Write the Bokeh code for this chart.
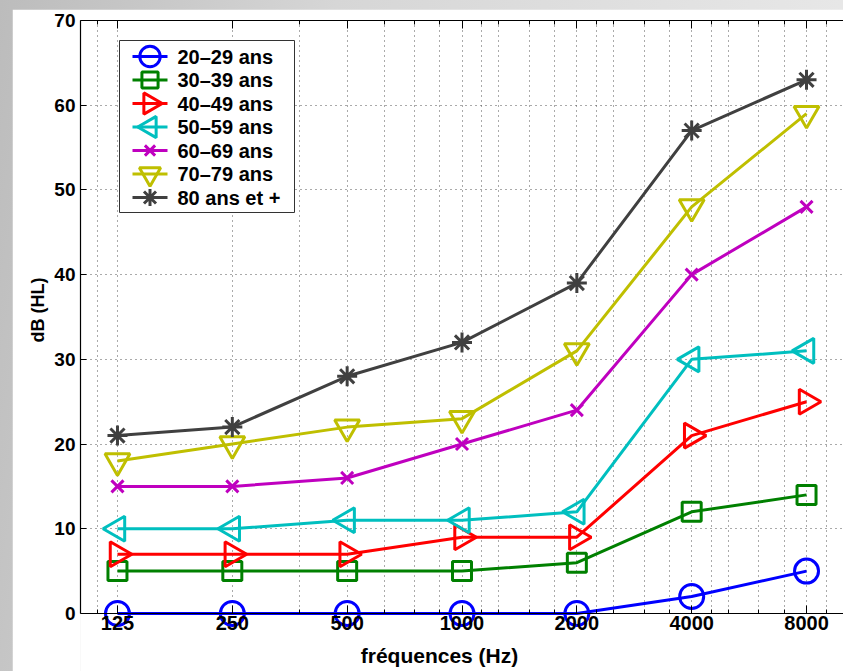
import math

from bokeh.core.properties import value
from bokeh.embed import file_html
from bokeh.layouts import column
from bokeh.models import FixedTicker, LinearScale, LogAxis, Range1d, Title
from bokeh.plotting import figure
from bokeh.resources import INLINE

# Audiometric thresholds by age group
freqs = [125, 250, 500, 1000, 2000, 4000, 8000]
freq_labels = ["125", "250", "500", "1000", "2000", "4000", "8000"]
minor_freqs = [111, 375, 625, 750, 875, 1125, 1250, 1500, 1750,
               2250, 2500, 3000, 3500, 4500, 5000, 6000, 7000, 9000]
y_ticks = [0, 10, 20, 30, 40, 50, 60, 70]

age_groups = ["20–29 ans", "30–39 ans", "40–49 ans", "50–59 ans",
              "60–69 ans", "70–79 ans", "80 ans et +"]
db_20_29 = [0, 0, 0, 0, 0, 2, 5]
db_30_39 = [5, 5, 5, 5, 6, 12, 14]
db_40_49 = [7, 7, 7, 9, 9, 21, 25]
db_50_59 = [10, 10, 11, 11, 12, 30, 31]
db_60_69 = [15, 15, 16, 20, 24, 40, 48]
db_70_79 = [18, 20, 22, 23, 31, 48, 59]
db_80_plus = [21, 22, 28, 32, 39, 57, 63]

series = [db_20_29, db_30_39, db_40_49, db_50_59, db_60_69, db_70_79, db_80_plus]
colors = ["#0000ff", "#008000", "#ff0000", "#00bfbf", "#bf00bf", "#bfbf00", "#404040"]
# (marker, size, rotation) -- triangles rotated to point right / left / down
markers = [
    ("circle", 24, 0.0),
    ("square", 19, 0.0),
    ("triangle", 25, -math.pi / 2),
    ("triangle", 25, math.pi / 2),
    ("x", 17, 0.0),
    ("triangle", 25, math.pi),
    ("asterisk", 20, 0.0),
]

FONT = "Liberation Sans"
X_TITLE = "fréquences (Hz)"
Y_TITLE = "dB (HL)"

FIG_W, FIG_H = 831, 662
BORDER_L, BORDER_T = 68, 11
FRAME_W = FIG_W - BORDER_L
FRAME_H = FIG_H - BORDER_T
Y_START = -6.85

p = figure(
    width=FIG_W, height=FIG_H,
    x_axis_type="log",
    x_range=Range1d(100, 10000),
    # the frame runs below 0 so that markers on the zero line and the
    # frequency labels underneath are not cut
    y_range=Range1d(Y_START, 70),
    output_backend="svg",
    toolbar_location=None,
    min_border_left=BORDER_L, min_border_right=0,
    min_border_top=BORDER_T, min_border_bottom=0,
    background_fill_color="white",
    border_fill_color="white",
    outline_line_color=None,
)
p.margin = (9, 0, 0, 12)

# pixel-like coordinate system for the legend block (origin top-left of frame)
p.extra_x_ranges = {"px": Range1d(0, FRAME_W)}
p.extra_x_scales = {"px": LinearScale()}
p.extra_y_ranges = {"px": Range1d(FRAME_H, 0)}
p.extra_y_scales = {"px": LinearScale()}

x_ticker = FixedTicker(ticks=freqs, minor_ticks=minor_freqs)
y_ticker = FixedTicker(ticks=y_ticks)

# white strip under the zero line, drawn first so it only hides the grid;
# its edges run past the frame so none of them show
p.quad(left=[-10], right=[FRAME_W + 10], top=[0], bottom=[Y_START - 2],
       fill_color="white", line_color="white", line_width=1,
       x_range_name="px")

# bottom axis sits on y = 0
xa = p.xaxis[0]
xa.ticker = x_ticker
xa.fixed_location = 0
xa.major_label_overrides = {f: lbl for f, lbl in zip(freqs, freq_labels)}
xa.major_tick_in = 8
xa.major_tick_out = 0
xa.minor_tick_in = 4
xa.minor_tick_out = 0
xa.major_label_standoff = 3

ya = p.yaxis[0]
ya.ticker = y_ticker
ya.bounds = (0, 70)
ya.major_tick_in = 6
ya.major_tick_out = 0
ya.major_label_standoff = 5

# top edge of the box, ticks only
top = LogAxis(ticker=x_ticker,
              major_label_overrides={f: "" for f in freqs},
              major_tick_in=8, major_tick_out=0,
              minor_tick_in=4, minor_tick_out=0,
              major_label_standoff=0)
p.add_layout(top, "above")

for ax in (xa, ya, top):
    ax.axis_line_color = "black"
    ax.axis_line_width = 1.2
    ax.major_tick_line_color = "black"
    ax.minor_tick_line_color = "black" if ax is not ya else None
for ax in (xa, ya):
    ax.major_label_text_font = FONT
    ax.major_label_text_font_style = "bold"
    ax.major_label_text_color = "black"
xa.major_label_text_font_size = "20px"
ya.major_label_text_font_size = "19px"

# vertical title, placed along the 0-70 span rather than the whole frame
p.add_layout(Title(text=Y_TITLE, align="left", offset=329, standoff=8,
                   text_font=FONT, text_font_style="bold",
                   text_font_size="18px", text_color="black"), "left")

p.xgrid.ticker = x_ticker
p.ygrid.ticker = y_ticker
for g in (p.xgrid, p.ygrid):
    g.grid_line_color = "#555555"
    g.grid_line_dash = "1 4"
    g.grid_line_width = 1
p.xgrid.minor_grid_line_color = "#555555"
p.xgrid.minor_grid_line_dash = "1 4"

for vals, color, (marker, size, angle) in zip(series, colors, markers):
    p.line(freqs, vals, line_color=color, line_width=3)
    p.scatter(freqs, vals, marker=marker, size=size, angle=angle,
              line_color=color, line_width=3, fill_color=None)

# frequency axis title, set slightly left of the frame centre
p.text(x=[359], y=[635], text=[X_TITLE],
       text_font=value(FONT), text_font_style="bold", text_font_size="21px",
       text_color="black", text_baseline="middle", text_align="center",
       x_range_name="px", y_range_name="px")

# legend block: frame box, then one row per age group
LEG_L, LEG_R, LEG_T, LEG_B = 39, 214, 20, 192
ROW0, ROW_STEP = 36, 23.5
SAMPLE_X0, SAMPLE_X1, TEXT_X = 52, 87, 97

p.quad(left=[LEG_L], right=[LEG_R], top=[LEG_T], bottom=[LEG_B],
       fill_color="white", line_color="#333333", line_width=1,
       x_range_name="px", y_range_name="px")

rows = [ROW0 + ROW_STEP * i for i in range(len(age_groups))]
p.segment(x0=[SAMPLE_X0] * len(rows), x1=[SAMPLE_X1] * len(rows),
          y0=rows, y1=rows, line_color=colors, line_width=3,
          x_range_name="px", y_range_name="px")
for row, color, (marker, size, angle) in zip(rows, colors, markers):
    p.scatter([(SAMPLE_X0 + SAMPLE_X1) / 2], [row], marker=marker,
              size=size * 0.85, angle=angle, line_color=color, line_width=3,
              fill_color=None, x_range_name="px", y_range_name="px")
p.text(x=[TEXT_X] * len(rows), y=rows, text=age_groups,
       text_font=value(FONT), text_font_style="bold", text_font_size="20px",
       text_color="black", text_baseline="middle", text_align="left",
       x_range_name="px", y_range_name="px")

root = column(p, styles={
    "background": "linear-gradient(100deg, #bcbcbc 0%, #d6d6d6 35%, #ebebeb 100%)"
})

with open("out.html", "w") as f:
    f.write(file_html(root, INLINE))
